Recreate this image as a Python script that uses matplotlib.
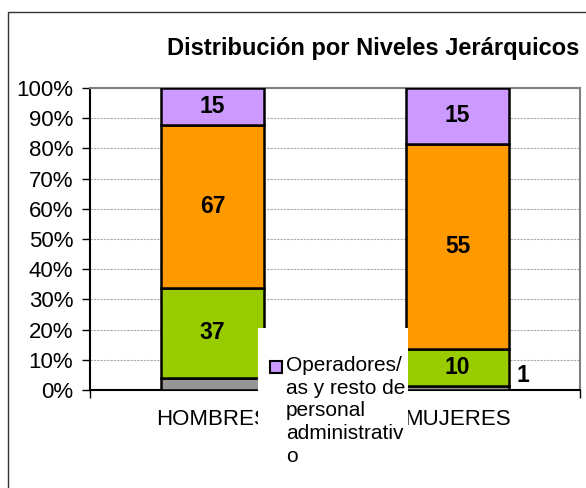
import matplotlib.pyplot as plt
import numpy as np
from matplotlib.patches import Rectangle

plt.rcParams['font.family'] = ['Liberation Sans', 'DejaVu Sans']

categories = ['HOMBRES', 'MUJERES']
# stacked from bottom to top
gris = [5, 1]
verde = [37, 10]
naranja = [67, 55]
morado = [15, 15]
legend_label = 'Operadores/\nas y resto de\npersonal\nadministrativ\no'
title = 'Distribución por Niveles Jerárquicos'

series = [gris, verde, naranja, morado]
colors = ['#969696', '#99CC00', '#FF9900', '#CC99FF']
show_inside = [False, True, True, True]

totals = np.sum(np.array(series), axis=0)

fig = plt.figure(figsize=(5.86, 4.88), dpi=100)
ax = fig.add_axes([90 / 586, 1 - 390 / 488, 490 / 586, 302 / 488])

x = np.arange(len(categories))
bottom = np.zeros(len(categories))
for vals, col, inside in zip(series, colors, show_inside):
    pct = np.array(vals) / totals * 100
    ax.bar(x, pct, 0.42, bottom=bottom, color=col, edgecolor='black',
           linewidth=1.8, zorder=3)
    if inside:
        for xi, b, p, v in zip(x, bottom, pct, vals):
            ax.text(xi, b + p / 2, str(v), ha='center', va='center',
                    fontsize=16.5, fontweight='bold', zorder=4)
    bottom += pct

# small gray value of MUJERES shown outside the bar
ax.annotate(str(gris[1]), (x[1] + 0.21, 0), xytext=(10, 2),
            textcoords='offset points', ha='center', va='bottom',
            fontsize=16.5, fontweight='bold')

ax.set_xlim(-0.5, 1.5)
ax.set_ylim(0, 100)
ax.set_yticks(np.arange(0, 101, 10))
ax.set_yticklabels([f'{v}%' for v in range(0, 101, 10)], fontsize=16)
ax.set_xticks(x)
ax.set_xticklabels(categories, fontsize=16)
ax.set_xticks([-0.5, 0.5, 1.5], minor=True)
ax.tick_params(axis='x', which='major', length=0, pad=14)
ax.tick_params(axis='x', which='minor', length=6, width=1, direction='out')
ax.tick_params(axis='y', length=6, width=1, direction='out', pad=6)
ax.yaxis.grid(True, color='#aaaaaa', linestyle=(0, (2, 1)), linewidth=0.8)
ax.set_axisbelow(True)
for s in ['top', 'right']:
    ax.spines[s].set_color('#808080')
    ax.spines[s].set_linewidth(1.5)
for s in ['left', 'bottom']:
    ax.spines[s].set_color('black')
    ax.spines[s].set_linewidth(1.5)

fig.text(167 / 586, 1 - 48 / 488, title, ha='left', va='center',
         fontsize=17, fontweight='bold')

# outer chart border
fig.patches.append(Rectangle((8 / 586, -0.1), 1.2, 1.1 - 12 / 488,
                             transform=fig.transFigure, fill=False,
                             edgecolor='#333333', linewidth=1, zorder=1))

# legend box overlapping the plot
fig.patches.append(Rectangle((258 / 586, -0.01), 150 / 586, 1 - 328 / 488 + 0.01,
                             transform=fig.transFigure, facecolor='white',
                             edgecolor='none', zorder=10))
fig.patches.append(Rectangle((270 / 586, 1 - 373 / 488), 12 / 586, 12 / 488,
                             transform=fig.transFigure, facecolor=colors[3],
                             edgecolor='black', linewidth=1.5, zorder=11))
fig.text(286 / 586, 1 - 356 / 488, legend_label, ha='left', va='top',
         fontsize=15, linespacing=1.25, zorder=11)

fig.savefig('out.png', dpi=100)
